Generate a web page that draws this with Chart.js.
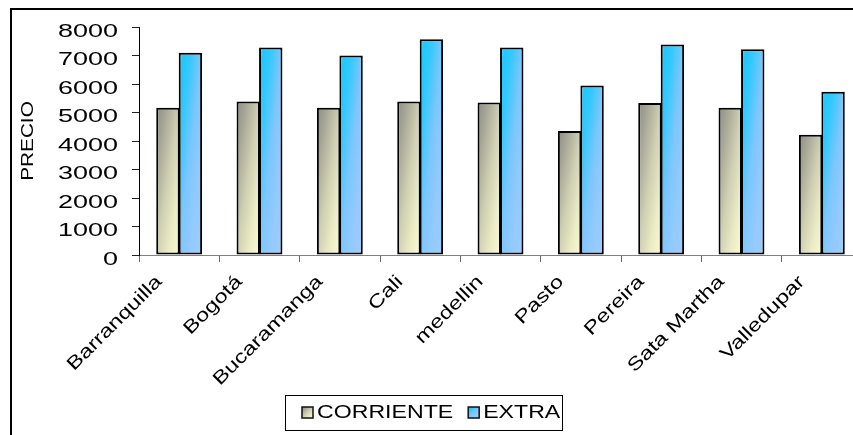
<!DOCTYPE html>
<html>
<head>
<meta charset="utf-8">
<title>Precio por ciudad</title>
<script src="https://cdn.jsdelivr.net/npm/chart.js@4.4.1/dist/chart.umd.min.js"></script>
<style>
  html, body { margin: 0; padding: 0; background: #fff; overflow: hidden; }
  #contenedor { position: absolute; left: 0; top: 0; width: 900px; height: 435px; }
</style>
</head>
<body>
<div id="contenedor"><canvas id="preciosChart" width="900" height="435"></canvas></div>
<script>
var ciudades = ['Barranquilla', 'Bogotá', 'Bucaramanga', 'Cali', 'medellin', 'Pasto', 'Pereira', 'Sata Martha', 'Valledupar']
var corriente = [5170, 5390, 5170, 5390, 5350, 4350, 5330, 5170, 4220]
var extra = [7100, 7280, 7000, 7570, 7280, 5950, 7390, 7220, 5730]
var precioTicks = [0, 1000, 2000, 3000, 4000, 5000, 6000, 7000, 8000]
var series = ['CORRIENTE', 'EXTRA']
var tituloY = 'PRECIO'

// diagonal fills, gray -> pale yellow and cyan -> light blue
var rellenos = [
  [[0, '#8c8c85'], [0.25, '#acac9a'], [0.5, '#d0d0b3'], [0.75, '#ebebc5'], [1, '#fcfad2']],
  [[0, '#6ed2ff'], [0.1, '#1ec8ff'], [0.25, '#34c8ff'], [0.5, '#7cc6ff'], [0.75, '#94caff'], [1, '#9cccff']]
]

var fuente = "'Liberation Sans', Arial, sans-serif"

// gradient running corner to corner of the box (isolines from top-right to bottom-left)
function diagonal(ctx, x0, y0, w, h, stops) {
  var k = 2 / (1 / (w * w) + 1 / (h * h))
  var g = ctx.createLinearGradient(x0, y0, x0 + k / w, y0 + k / h)
  stops.forEach(function(s) { g.addColorStop(s[0], s[1]) })
  return g
}

// text drawn wider along its own direction
function textoAncho(ctx, txt, x, y, ang, sx, align, base) {
  ctx.save()
  ctx.translate(x, y)
  ctx.rotate(ang)
  ctx.scale(sx, 1)
  ctx.textAlign = align
  ctx.textBaseline = base
  ctx.fillText(txt, 0, 0)
  ctx.restore()
}

var rellenoBarras = {
  id: 'rellenoBarras',
  afterDatasetsUpdate: function(chart) {
    chart.data.datasets.forEach(function(ds, di) {
      var meta = chart.getDatasetMeta(di)
      meta.data.forEach(function(bar) {
        var p = bar.getProps(['x', 'y', 'width', 'base'], true)
        var top = Math.min(p.y, p.base)
        var h = Math.max(Math.abs(p.base - p.y), 1)
        var g = diagonal(chart.ctx, p.x - p.width / 2, top, p.width, h, rellenos[di])
        bar.options = Object.assign({}, bar.options, { backgroundColor: g })
      })
    })
  }
}

var textos = {
  id: 'textos',
  afterDraw: function(chart) {
    var ctx = chart.ctx
    var area = chart.chartArea
    var xs = chart.scales.x
    var ys = chart.scales.y
    ctx.save()
    ctx.fillStyle = '#000'

    // marco
    ctx.fillRect(10, 8, 900, 2)
    ctx.fillRect(10, 8, 2, 435)

    // eje Y
    ctx.font = '19px ' + fuente
    ys.ticks.forEach(function(t, i) {
      textoAncho(ctx, String(t.value), area.left - 21, ys.getPixelForTick(i) + 9.5, 0, 1.42, 'right', 'alphabetic')
    })
    ctx.font = '17px ' + fuente
    textoAncho(ctx, tituloY, 33, (area.top + area.bottom) / 2, -Math.PI / 2, 1.22, 'center', 'alphabetic')

    // ciudades
    ctx.font = '18.5px ' + fuente
    ciudades.forEach(function(c, i) {
      var cx = xs.getPixelForValue(i)
      textoAncho(ctx, c, cx - 20, area.bottom + 24, -Math.PI / 4, 1.27, 'right', 'middle')
    })

    // leyenda
    ctx.strokeStyle = '#000'
    ctx.lineWidth = 1
    ctx.strokeRect(285.5, 395.5, 277, 35)
    var x = 302
    series.forEach(function(s, i) {
      ctx.fillStyle = diagonal(ctx, x, 407, 11, 11, rellenos[i])
      ctx.fillRect(x, 407, 11, 11)
      ctx.strokeStyle = '#111'
      ctx.lineWidth = 1.5
      ctx.strokeRect(x, 407, 11, 11)
      ctx.fillStyle = '#000'
      ctx.font = '18.5px ' + fuente
      var tx = x + 15
      textoAncho(ctx, s, tx, 417.5, 0, 1.25, 'left', 'alphabetic')
      x = tx + ctx.measureText(s).width * 1.25 + 15
    })
    ctx.restore()
  }
}

var barra = {
  backgroundColor: '#ccc',
  borderColor: '#000',
  borderWidth: 2,
  borderSkipped: false,
  categoryPercentage: 0.56,
  barPercentage: 1.04
}

var ctx = document.getElementById('preciosChart').getContext('2d')

var preciosChart = new Chart(ctx, {
  type: 'bar',
  data: {
    labels: ciudades,
    datasets: [
      Object.assign({ label: series[0], data: corriente }, barra),
      Object.assign({ label: series[1], data: extra }, barra)
    ]
  },
  options: {
    responsive: false,
    animation: false,
    events: [],
    devicePixelRatio: 1,
    layout: { padding: { top: 27, right: 38, bottom: 0, left: 0 } },
    plugins: {
      legend: { display: false },
      tooltip: { enabled: false }
    },
    scales: {
      x: {
        ticks: { display: false },
        grid: { drawOnChartArea: false, drawTicks: true, tickLength: 7, color: '#666', offset: true },
        border: { color: '#808080', width: 1 },
        afterFit: function(s) {
          s.height = 180
          s.paddingLeft = 0
          s.paddingRight = 0
        }
      },
      y: {
        min: 0,
        max: 8000,
        ticks: { display: false },
        afterBuildTicks: function(s) {
          s.ticks = precioTicks.map(function(v) { return { value: v } })
        },
        grid: { drawOnChartArea: false, drawTicks: true, tickLength: 7, color: '#222' },
        border: { color: '#000', width: 1 },
        afterFit: function(s) {
          s.width = 139
          s.paddingTop = 0
          s.paddingBottom = 0
        }
      }
    }
  },
  plugins: [rellenoBarras, textos]
})
</script>
</body>
</html>
